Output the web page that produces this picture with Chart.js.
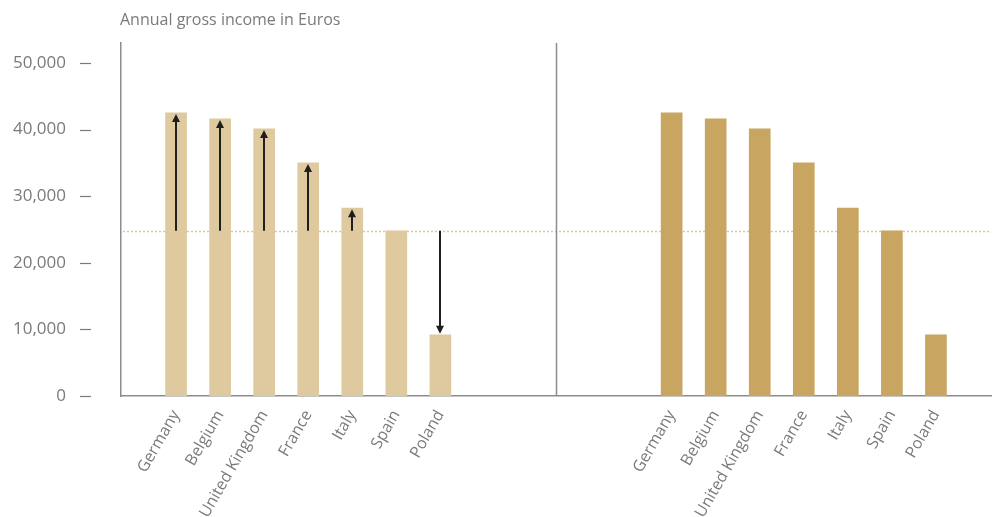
<!DOCTYPE html>
<html>
<head>
<meta charset="utf-8">
<script src="https://cdn.jsdelivr.net/npm/chart.js@4"></script>
<style>
html, body { margin: 0; padding: 0; background: #fff; }
</style>
</head>
<body>
<canvas id="income" width="993" height="517"></canvas>
<script>
var categories = ['Germany', 'Belgium', 'United Kingdom', 'France', 'Italy', 'Spain', 'Poland'];
var incomes = [42500, 41600, 40100, 35000, 28200, 24800, 9200];
var referenceIncome = 24800; // Spain, the dotted line the arrows start from
var yTicks = [0, 10000, 20000, 30000, 40000, 50000];
var yTitle = 'Annual gross income in Euros';

// position of each bar along the x scale, in bar slots
var groupGap = 11.25;
var leftPos = categories.map(function (c, i) { return i; });
var rightPos = categories.map(function (c, i) { return i + groupGap; });

var lightColor = '#dfc99f';
var darkColor = '#c8a560';
var textColor = '#7a7a7a';
var axisColor = '#8c8c8c';
var fontFamily = "'Open Sans', sans-serif";

function pts(pos) {
	return pos.map(function (p, i) { return { x: p, y: incomes[i] }; });
}

var extras = {
	id: 'extras',
	beforeDatasetsDraw: function (chart) {
		var ctx = chart.ctx, a = chart.chartArea, y = chart.scales.y;
		var yy = Math.round(y.getPixelForValue(referenceIncome)) + 0.5;
		ctx.save();
		ctx.strokeStyle = '#dcc79c';
		ctx.lineWidth = 1.5;
		ctx.setLineDash([2, 2]);
		ctx.beginPath();
		ctx.moveTo(a.left + 2, yy);
		ctx.lineTo(a.right, yy);
		ctx.stroke();
		ctx.restore();
	},
	afterDatasetsDraw: function (chart) {
		var ctx = chart.ctx, a = chart.chartArea, x = chart.scales.x, y = chart.scales.y;
		ctx.save();

		// divider between the two panels
		var dx = Math.round(x.getPixelForValue((leftPos[leftPos.length - 1] + rightPos[0]) / 2)) + 0.5;
		ctx.strokeStyle = axisColor;
		ctx.lineWidth = 1.5;
		ctx.beginPath();
		ctx.moveTo(dx, a.top);
		ctx.lineTo(dx, a.bottom);
		ctx.stroke();

		// arrows from the reference level to each bar top, left panel
		var y0 = y.getPixelForValue(referenceIncome);
		ctx.strokeStyle = '#1f1f1f';
		ctx.fillStyle = '#1f1f1f';
		ctx.lineWidth = 2;
		leftPos.forEach(function (p, i) {
			if (incomes[i] === referenceIncome) return;
			var px = Math.round(x.getPixelForValue(p));
			var y1 = y.getPixelForValue(incomes[i]);
			var dir = y1 < y0 ? 1 : -1;
			var tip = y1 + dir * 1;
			ctx.beginPath();
			ctx.moveTo(px, y0);
			ctx.lineTo(px, tip + dir * 6);
			ctx.stroke();
			ctx.beginPath();
			ctx.moveTo(px, tip);
			ctx.lineTo(px - 4, tip + dir * 8);
			ctx.lineTo(px + 4, tip + dir * 8);
			ctx.closePath();
			ctx.fill();
		});

		// short dashes next to the y tick labels
		ctx.strokeStyle = textColor;
		ctx.lineWidth = 1.2;
		yTicks.forEach(function (t) {
			var ty = Math.round(y.getPixelForValue(t)) + 0.5;
			ctx.beginPath();
			ctx.moveTo(80, ty);
			ctx.lineTo(91, ty);
			ctx.stroke();
		});

		// axis title
		ctx.fillStyle = textColor;
		ctx.font = '16px ' + fontFamily;
		ctx.textBaseline = 'alphabetic';
		ctx.textAlign = 'left';
		ctx.fillText(yTitle, a.left - 1, 25);
		ctx.restore();
	}
};

var config = {
	type: 'bar',
	data: {
		datasets: [{
			data: pts(leftPos),
			backgroundColor: lightColor,
			barThickness: 21,
			grouped: false
		}, {
			data: pts(rightPos),
			backgroundColor: darkColor,
			barThickness: 21,
			grouped: false
		}]
	},
	options: {
		responsive: false,
		animation: false,
		devicePixelRatio: 1,
		layout: { padding: { top: 43, right: 2, left: 0, bottom: 0 } },
		plugins: {
			legend: { display: false },
			tooltip: { enabled: false },
			title: { display: false }
		},
		scales: {
			x: {
				type: 'linear',
				offset: false,
				bounds: 'data',
				min: leftPos[0] - 1.25,
				max: rightPos[rightPos.length - 1] + 1.25,
				grid: { display: false, offset: false },
				border: { display: true, color: axisColor, width: 1.5 },
				afterBuildTicks: function (s) {
					s.ticks = leftPos.concat(rightPos).map(function (v) { return { value: v }; });
				},
				afterFit: function (s) {
					s.height = 121;
					s.paddingLeft = 0; s.paddingRight = 0; s.paddingTop = 0; s.paddingBottom = 0;
				},
				ticks: {
					autoSkip: false,
					minRotation: 60,
					maxRotation: 60,
					padding: 3,
					color: textColor,
					font: { family: fontFamily, size: 16 },
					callback: function (v) {
						var i = leftPos.indexOf(v);
						if (i < 0) i = rightPos.indexOf(v);
						return i < 0 ? '' : categories[i];
					}
				}
			},
			y: {
				min: 0,
				max: 53000,
				grid: { display: false },
				border: { display: true, color: axisColor, width: 1.5 },
				afterBuildTicks: function (s) {
					s.ticks = yTicks.map(function (v) { return { value: v }; });
				},
				afterFit: function (s) {
					s.width = 121;
					s.paddingLeft = 0; s.paddingRight = 0; s.paddingTop = 0; s.paddingBottom = 0;
				},
				ticks: {
					padding: 47,
					color: textColor,
					font: { family: fontFamily, size: 17 },
					callback: function (v) { return v.toLocaleString('en-US'); }
				}
			}
		}
	},
	plugins: [extras]
};

window.onload = function () {
	var ctx = document.getElementById('income').getContext('2d');
	window.incomeChart = new Chart(ctx, config);
};
</script>
</body>
</html>
